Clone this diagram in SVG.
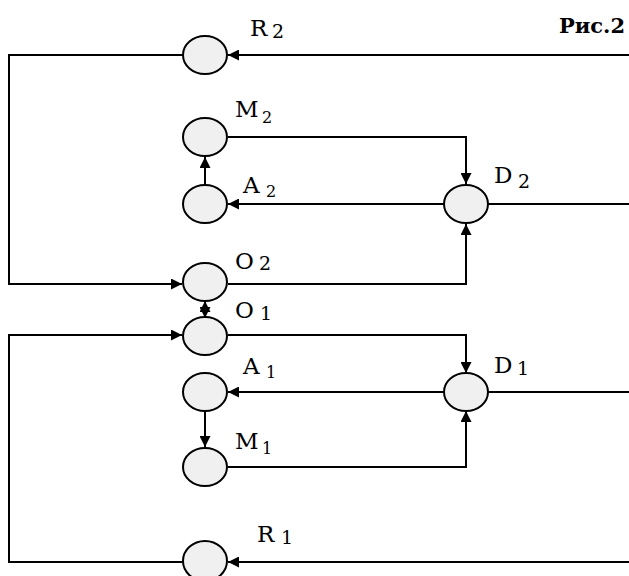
<svg xmlns="http://www.w3.org/2000/svg" width="629" height="576" viewBox="0 0 629 576">
  <style>
    .node { fill: #f0f0f0; stroke: #000; stroke-width: 2; }
    .wire { fill: none; stroke: #000; stroke-width: 2; }
    .lbl { font-family: "DejaVu Serif", "Liberation Serif", serif; font-size: 23px; fill: #000; }
    .sub { font-size: 16px; }
    .subl { font-size: 19px; }
    .title { font-family: "DejaVu Serif", "Liberation Serif", serif; font-size: 21px; font-weight: bold; fill: #000; }
  </style>
  <defs>
    <marker id="arr" viewBox="0 0 11 11" refX="11" refY="5.5" markerWidth="11" markerHeight="11" markerUnits="userSpaceOnUse" orient="auto">
      <path d="M0,0 L11,5.5 L0,11 Z" fill="#000"/>
    </marker>
  </defs>
  <rect width="629" height="576" fill="#fff"/>

  <g id="connectors" class="wire">
    <!-- top feedback loop R2 -> O2 -->
    <line x1="629" y1="55" x2="228" y2="55" marker-end="url(#arr)"/>
    <polyline points="183,55 9,55 9,284 182,284" marker-end="url(#arr)"/>
    <!-- M2 -> D2 -->
    <polyline points="228,137 466,137 466,184" marker-end="url(#arr)"/>
    <!-- D2 -> A2 -->
    <line x1="444" y1="204" x2="228" y2="204" marker-end="url(#arr)"/>
    <!-- A2 -> M2 -->
    <line x1="205" y1="185" x2="205" y2="157" marker-end="url(#arr)"/>
    <!-- D2 output -->
    <line x1="488" y1="204" x2="629" y2="204"/>
    <!-- O2 -> D2 -->
    <polyline points="228,284 466,284 466,224" marker-end="url(#arr)"/>
    <!-- O1 <-> O2 -->
    <line x1="205" y1="309" x2="205" y2="301" marker-end="url(#arr)"/>
    <line x1="205" y1="308" x2="205" y2="318" marker-end="url(#arr)"/>
    <!-- bottom feedback loop R1 -> O1 -->
    <line x1="629" y1="562" x2="228" y2="562" marker-end="url(#arr)"/>
    <polyline points="183,562 9,562 9,335 182,335" marker-end="url(#arr)"/>
    <!-- O1 -> D1 -->
    <polyline points="228,335 466,335 466,373" marker-end="url(#arr)"/>
    <!-- D1 -> A1 -->
    <line x1="444" y1="392" x2="228" y2="392" marker-end="url(#arr)"/>
    <!-- A1 -> M1 -->
    <line x1="205" y1="411" x2="205" y2="447" marker-end="url(#arr)"/>
    <!-- D1 output -->
    <line x1="488" y1="392" x2="629" y2="392"/>
    <!-- M1 -> D1 -->
    <polyline points="228,467 466,467 466,411" marker-end="url(#arr)"/>
  </g>

  <g id="R2"><ellipse class="node" cx="205" cy="55" rx="22" ry="19"/>
    <text class="lbl" x="250" y="36">R<tspan class="subl" x="272" y="38">2</tspan></text></g>
  <g id="M2"><ellipse class="node" cx="205" cy="137" rx="22" ry="19"/>
    <text class="lbl" x="235" y="117">M<tspan class="sub" x="262" y="123">2</tspan></text></g>
  <g id="A2"><ellipse class="node" cx="205" cy="204" rx="22" ry="19"/>
    <text class="lbl" x="243" y="193">A<tspan class="sub" x="266" y="197">2</tspan></text></g>
  <g id="D2"><ellipse class="node" cx="466" cy="204" rx="22" ry="19"/>
    <text class="lbl" x="494" y="183">D<tspan class="subl" x="518" y="188">2</tspan></text></g>
  <g id="O2"><ellipse class="node" cx="205" cy="282" rx="22" ry="19"/>
    <text class="lbl" x="235" y="269">O<tspan class="subl" x="259" y="270">2</tspan></text></g>
  <g id="O1"><ellipse class="node" cx="205" cy="336" rx="22" ry="19"/>
    <text class="lbl" x="235" y="318">O<tspan class="subl" x="260" y="320">1</tspan></text></g>
  <g id="A1"><ellipse class="node" cx="205" cy="392" rx="22" ry="19"/>
    <text class="lbl" x="243" y="374">A<tspan class="sub" x="266" y="378">1</tspan></text></g>
  <g id="D1"><ellipse class="node" cx="466" cy="392" rx="22" ry="19"/>
    <text class="lbl" x="494" y="373">D<tspan class="subl" x="517" y="375">1</tspan></text></g>
  <g id="M1"><ellipse class="node" cx="205" cy="467" rx="22" ry="19"/>
    <text class="lbl" x="235" y="449">M<tspan class="sub" x="262" y="454">1</tspan></text></g>
  <g id="R1"><ellipse class="node" cx="205" cy="561" rx="22" ry="20"/>
    <text class="lbl" x="257" y="542">R<tspan class="subl" x="281" y="544">1</tspan></text></g>

  <text class="title" x="625" y="33" text-anchor="end">Рис.2</text>
</svg>
